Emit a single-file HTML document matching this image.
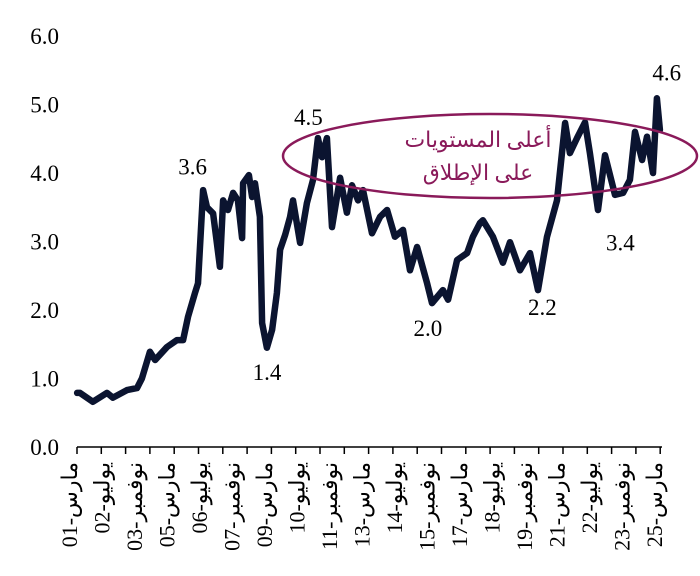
<!DOCTYPE html>
<html><head><meta charset="utf-8"><style>
html,body{margin:0;padding:0;background:#fff;}
svg{display:block;font-family:"Liberation Serif","Noto Serif CJK SC",serif;}
</style></head><body>
<svg id="chart" width="700" height="576" viewBox="0 0 700 576" xmlns="http://www.w3.org/2000/svg">
<g id="yaxis"></g>
<g id="xaxis"></g>
<g id="series"></g>
<g id="notes"></g>
<ellipse cx="490" cy="156" rx="207" ry="42" fill="none" stroke="#8a1a5a" stroke-width="2.5"/>
<text x="478" y="147" text-anchor="middle" font-size="22" fill="#8a1a5a" font-family="'Liberation Serif','DejaVu Sans',serif" direction="rtl">أعلى المستويات</text>
<text x="478" y="180" text-anchor="middle" font-size="22" fill="#8a1a5a" font-family="'Liberation Serif','DejaVu Sans',serif" direction="rtl">على الإطلاق</text>
</svg>
<script>
const dates=[2001.46,2001.58,2002.11,2002.69,2002.93,2003.51,2003.92,2004.12,2004.45,2004.66,2005.15,2005.56,2005.81,2006.01,2006.3,2006.42,2006.63,2006.79,2007.04,2007.32,2007.45,2007.65,2007.86,2008.06,2008.23,2008.27,2008.51,2008.64,2008.76,2008.96,2009.05,2009.25,2009.46,2009.66,2009.79,2010.0,2010.2,2010.32,2010.61,2010.89,2011.14,2011.34,2011.51,2011.71,2011.92,2012.25,2012.53,2012.74,2012.99,2013.19,2013.56,2013.89,2014.18,2014.5,2014.83,2015.12,2015.41,2015.82,2016.02,2016.47,2016.68,2017.05,2017.46,2017.7,2017.99,2018.11,2018.52,2018.93,2019.22,2019.63,2020.04,2020.37,2020.74,2021.15,2021.48,2021.68,2021.97,2022.3,2022.5,2022.83,2023.12,2023.53,2023.86,2024.14,2024.35,2024.64,2024.84,2025.09,2025.25,2025.37];
const values=[0.79,0.79,0.66,0.79,0.72,0.83,0.86,1.0,1.39,1.27,1.46,1.56,1.56,1.9,2.25,2.39,3.75,3.5,3.41,2.63,3.6,3.46,3.71,3.6,3.05,3.85,3.97,3.65,3.85,3.36,1.81,1.45,1.71,2.25,2.88,3.1,3.36,3.6,2.98,3.56,3.9,4.51,4.23,4.51,3.21,3.93,3.42,3.82,3.6,3.75,3.12,3.36,3.46,3.07,3.17,2.58,2.92,2.39,2.1,2.29,2.15,2.73,2.83,3.07,3.27,3.31,3.07,2.69,2.99,2.58,2.83,2.29,3.07,3.6,4.73,4.29,4.51,4.74,4.29,3.46,4.26,3.68,3.71,3.9,4.6,4.19,4.53,4.0,5.09,4.63];
const yTicks=[0,1,2,3,4,5,6];
const yTickLabels=["0.0","1.0","2.0","3.0","4.0","5.0","6.0"];
const xLabels=["مارس-01","يوليو-02","نوفمبر-03","مارس-05","يوليو-06","نوفمبر-07","مارس-09","يوليو-10","نوفمبر-11","مارس-13","يوليو-14","نوفمبر-15","مارس-17","يوليو-18","نوفمبر-19","مارس-21","يوليو-22","نوفمبر-23","مارس-25"];
const xLabelDates=[2001.17,2002.5,2003.83,2005.17,2006.5,2007.83,2009.17,2010.5,2011.83,2013.17,2014.5,2015.83,2017.17,2018.5,2019.83,2021.17,2022.5,2023.83,2025.17];
const noteLabels=["3.6","1.4","4.5","2.0","2.2","3.4","4.6"];
const noteDates=[2006.2,2009.25,2010.95,2015.85,2020.55,2023.75,2025.65];
const noteValues=[3.98,0.98,4.7,1.62,1.93,2.87,5.35];

const NS="http://www.w3.org/2000/svg";
function X(d){return 70+(d-2001.17)*24.375;}
function Y(v){return 447-v*68.5;}
function mk(tag,attrs,parent){const e=document.createElementNS(NS,tag);for(const k in attrs)e.setAttribute(k,attrs[k]);parent.appendChild(e);return e;}

const ya=document.getElementById('yaxis');
yTicks.forEach((t,i)=>{
  const e=mk('text',{x:59,y:Y(t)+8,'text-anchor':'end','font-size':'23',fill:'#000'},ya);
  
  
  e.textContent=yTickLabels[i];
});
const xa=document.getElementById('xaxis');
const axl=mk('line',{x1:77,y1:447,x2:662,y2:447,stroke:'#000','stroke-width':1.5},xa);


for(let yr=2001;yr<=2025;yr++){
  const tx=77+(yr-2001)*24.3;
  const tk=mk('line',{x1:tx,y1:447,x2:tx,y2:454,stroke:'#000','stroke-width':1.5},xa);
  
  
}
xLabels.forEach((l,i)=>{
  const x=X(xLabelDates[i])+7;
  const e=mk('text',{x:0,y:0,transform:`translate(${x},462) rotate(-90)`,'text-anchor':'end','font-size':'22',fill:'#000','font-family':"'Liberation Serif','DejaVu Sans',serif"},xa);
  
  
  e.textContent=l;
});
const s=document.getElementById('series');
const pts=dates.map((d,i)=>X(d).toFixed(1)+','+Y(values[i]).toFixed(1)).join(' ');
const pl=mk('polyline',{points:pts,fill:'none',stroke:'#0b1430','stroke-width':6.5,'stroke-linejoin':'round','stroke-linecap':'round'},s);


const nn=document.getElementById('notes');
noteLabels.forEach((l,i)=>{
  const e=mk('text',{x:X(noteDates[i]),y:Y(noteValues[i]),'text-anchor':'middle','font-size':'23',fill:'#000'},nn);
  
  
  e.textContent=l;
});
</script>
</body></html>
